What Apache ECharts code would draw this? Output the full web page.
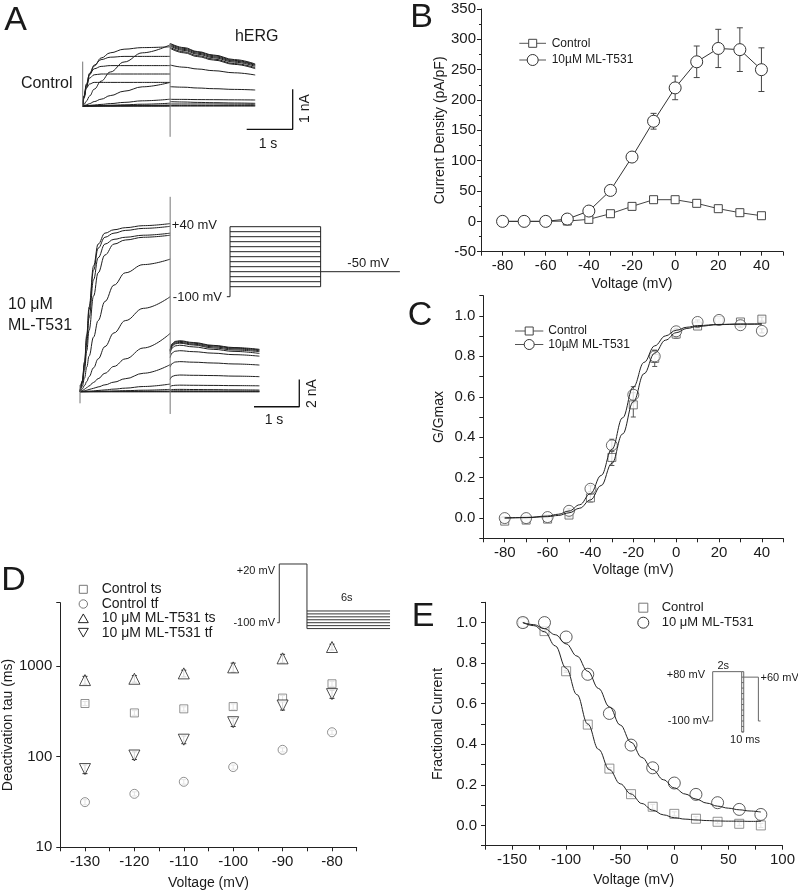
<!DOCTYPE html>
<html><head><meta charset="utf-8">
<script src="https://cdn.jsdelivr.net/npm/echarts@6/dist/echarts.min.js"></script>
<style>html,body{margin:0;padding:0;background:#fff}#c{width:798px;height:896px}</style>
</head><body><div id="c"></div>
<script>
// ---------- Panel A: current traces (time s, current nA) ----------
const ctrlStepT = [0, 0.03, 0.08, 0.15, 0.25, 0.4, 0.6, 0.9, 1.3, 1.9];
const ctrlStepI = [
  [0,0.25,0.45,0.55,0.59,0.59,0.59,0.59,0.59,0.59],
  [0,0.25,0.52,0.7,0.78,0.8,0.8,0.8,0.8,0.8],
  [0,0.25,0.55,0.8,0.93,0.99,1.01,1.01,1.01,1.01],
  [0,0.22,0.5,0.82,1.02,1.16,1.22,1.24,1.24,1.24],
  [0,0.2,0.45,0.78,1.0,1.2,1.33,1.42,1.46,1.48],
  [0,0.04,0.12,0.25,0.42,0.62,0.85,1.1,1.33,1.53],
  [0,0.01,0.03,0.06,0.11,0.17,0.26,0.37,0.48,0.59],
  [0,0.003,0.008,0.015,0.025,0.04,0.06,0.09,0.13,0.17],
  [0,0,0.002,0.005,0.008,0.013,0.02,0.03,0.045,0.07],
  [0,0,0,0,0.002,0.004,0.007,0.011,0.017,0.025],
  [0,0,0,0,0,0.002,0.003,0.005,0.007,0.01],
  [0,0,0,0,0,0,0,0,0,0],
  [0,0,0,0,0,0,0,0,0,0]
];
const ctrlTailT = [1.9, 2.2, 2.5, 2.84, 3.3, 3.75];
const ctrlTailI = [
  [1.567,1.46,1.36,1.275,1.16,1.05],
  [1.55,1.44,1.345,1.258,1.14,1.033],
  [1.525,1.415,1.32,1.233,1.12,1.017],
  [1.5,1.39,1.295,1.208,1.095,0.992],
  [1.467,1.355,1.26,1.175,1.06,0.958],
  [1.442,1.33,1.235,1.15,1.04,0.933],
  [1.025,0.97,0.925,0.883,0.83,0.775],
  [0.483,0.47,0.45,0.433,0.415,0.4],
  [0.167,0.165,0.16,0.158,0.154,0.15],
  [0.108,0.1,0.09,0.083,0.075,0.067],
  [0.05,0.05,0.05,0.05,0.046,0.042],
  [0.01,0.01,0.01,0.01,0.01,0.01],
  [0,0,0,0,0,0]
];
const ctrlArtifactT = [0, 1.9];
const ctrlArtifactLo = [0, -0.77];
const ctrlArtifactHi = [1.11, 1.57];
const ctrlScaleT = [3.565, 4.565];
const ctrlScaleI = [-0.5825, 0.4175];

const drugStepT = [0, 0.05, 0.1, 0.15, 0.2, 0.3, 0.4, 0.55, 0.75, 1.0, 1.4, 1.99];
const drugStepI = [
  [0,0.8,2.2,4.2,6.2,9.2,10.8,11.6,11.85,12.0,12.15,12.3],
  [0,0.75,2.1,4.0,6.0,8.9,10.5,11.3,11.6,11.8,11.95,12.1],
  [0,0.7,1.9,3.6,5.4,8.2,9.8,10.8,11.15,11.3,11.45,11.6],
  [0,0.6,1.6,3.0,4.5,7.0,8.7,10.0,10.8,11.1,11.3,11.45],
  [0,0.4,1.0,1.8,2.6,4.0,5.2,6.6,7.8,8.7,9.3,9.7],
  [0,0.2,0.45,0.75,1.1,1.75,2.4,3.3,4.3,5.2,6.1,6.95],
  [0,0.08,0.18,0.3,0.42,0.68,0.95,1.35,1.85,2.4,3.2,4.27],
  [0,0.03,0.07,0.11,0.16,0.25,0.35,0.5,0.7,0.95,1.35,1.98],
  [0,0.01,0.02,0.03,0.04,0.06,0.09,0.13,0.19,0.26,0.38,0.56],
  [0,0,0.005,0.01,0.012,0.02,0.028,0.04,0.055,0.075,0.11,0.17],
  [0,0,0,0,0.005,0.007,0.01,0.013,0.018,0.025,0.035,0.05],
  [0,0,0,0,0,0,0,0,0,0,0,0],
  [0,0,0,0,0,0,0,0,0,0,0,0]
];
const drugTailT = [1.99, 2.03, 2.1, 2.2, 2.5, 2.94, 3.4, 3.96];
const drugTailI = [
  [3.06,3.5,3.68,3.73,3.6,3.39,3.23,3.1],
  [3.02,3.45,3.63,3.68,3.55,3.35,3.19,3.06],
  [2.98,3.39,3.56,3.61,3.48,3.28,3.13,3.0],
  [2.92,3.33,3.5,3.55,3.42,3.2,3.05,2.93],
  [2.8,3.19,3.35,3.4,3.28,3.1,2.95,2.8],
  [2.5,2.83,2.96,3.0,2.93,2.82,2.71,2.6],
  [1.8,2.06,2.17,2.2,2.16,2.1,2.03,1.95],
  [0.9,1.11,1.19,1.22,1.2,1.18,1.14,1.1],
  [0.35,0.44,0.47,0.48,0.47,0.46,0.445,0.43],
  [0.12,0.15,0.165,0.17,0.16,0.15,0.135,0.12],
  [0.05,0.055,0.06,0.06,0.055,0.05,0.05,0.05],
  [0,0,0,0,0,0,0,0],
  [0,0,0,0,0,0,0,0]
];
const drugArtifactT = [0, 1.99];
const drugArtifactLo = [-0.85, -1.63];
const drugArtifactHi = [0.49, 14.26];
const drugScaleT = [3.84, 4.84];
const drugScaleI = [-1.1, 0.9];

// protocol A (time s, mV)
const protoASteps = [-80,-70,-60,-50,-40,-30,-20,-10,0,10,20,30,40];
const protoAHold = -100;
const protoATail = -50;
const protoATimes = [-0.07, 0, 2, 3.75];

// ---------- Panel B ----------
const bVolt = [-80,-70,-60,-50,-40,-30,-20,-10,0,10,20,30,40];
const bControl = [0,0,0,0.5,3.3,12.6,24.7,35.7,35.7,29.7,20.9,14.3,9.3];
const bControlErr = [1,1,1,1,2,2,3,3,3,3,3,3,3];
const bDrug = [0,0,0,3.8,17,51,106,165,220,263,285,283,250];
const bDrugErr = [1,1,1,2,3,4,6,13,19.5,26,31.5,36,36];

// ---------- Panel C ----------
const cVolt = [-80,-70,-60,-50,-40,-30,-20,-10,0,10,20,30,40];
const cControl = [-0.015,-0.01,-0.005,0.015,0.10,0.30,0.56,0.79,0.91,0.95,0.977,0.97,0.984];
const cControlErr = [0.005,0.005,0.005,0.01,0.02,0.04,0.06,0.04,0.02,0.01,0.01,0.01,0.01];
const cDrug = [0.0,0.0,0.005,0.036,0.145,0.36,0.61,0.80,0.924,0.97,0.98,0.954,0.926];
const cDrugErr = [0.005,0.005,0.005,0.01,0.015,0.03,0.04,0.03,0.015,0.01,0.01,0.01,0.01];
const cFitVolt = [-80,-70,-60,-55,-50,-45,-40,-35,-30,-25,-20,-15,-10,-5,0,5,10,20,30,40];
const cControlFit = [0.0,0.002,0.007,0.013,0.026,0.049,0.09,0.161,0.271,0.416,0.575,0.714,0.816,0.88,0.917,0.938,0.948,0.957,0.959,0.96];
const cDrugFit = [0.001,0.003,0.01,0.019,0.035,0.066,0.121,0.211,0.34,0.496,0.648,0.77,0.852,0.901,0.929,0.944,0.952,0.958,0.96,0.96];

// ---------- Panel D ----------
const dVolt = [-130,-120,-110,-100,-90,-80];
const dCtrlTs = [386,304,337,357,443,637];
const dCtrlTsErr = [20,18,18,25,30,40];
const dCtrlTf = [31.5,38.9,52.8,76.8,119,186];
const dCtrlTfErr = [2,2,3,4,6,10];
const dDrugTs = [700,724,830,967,1216,1622];
const dDrugTsErr = [70,60,70,110,130,120];
const dDrugTf = [73,103,154,240,367,490];
const dDrugTfErr = [8,10,15,25,40,50];
// protocol D
const protoDHold = -100;
const protoDPulse = 20;
const protoDSteps = [-76,-82,-88,-94,-100,-106,-112];
const protoDTimes = [-0.15, 0, 2, 8];

// ---------- Panel E ----------
const eVolt = [-140,-120,-100,-80,-60,-40,-20,0,20,40,60,80];
const eControl = [1.0,0.958,0.76,0.497,0.28,0.154,0.092,0.057,0.033,0.018,0.008,0.0];
const eControlErr = [0.005,0.005,0.005,0.005,0.005,0.01,0.012,0.01,0.01,0.01,0.01,0.01];
const eDrug = [1.0,1.0,0.929,0.745,0.552,0.396,0.284,0.209,0.153,0.112,0.079,0.054];
const eFitVolt = [-140,-130,-120,-110,-100,-90,-80,-70,-60,-50,-40,-30,-20,-10,0,10,20,30,40,50,60,70,80];
const eControlFit = [1.0,0.985,0.955,0.885,0.775,0.645,0.5,0.375,0.275,0.205,0.155,0.108,0.075,0.052,0.038,0.031,0.027,0.024,0.022,0.021,0.021,0.02,0.02];
const eDrugFit = [1.0,0.99,0.97,0.94,0.895,0.835,0.76,0.675,0.585,0.495,0.41,0.335,0.275,0.225,0.185,0.155,0.13,0.11,0.095,0.085,0.077,0.071,0.066];
// protocol E
const protoEHold = -100;
const protoEPre = 80;
const protoETest = 60;
const protoELadder = [-140,-120,-100,-80,-60,-40,-20,0,20,40,60,80];
const protoETimes = [-0.3, 0, 2, 2.14, 3.15, 3.3];

// =================================================================
const FONT = '"Liberation Sans", Arial, sans-serif';
const TXT = '#1a1a1a';
const chart = echarts.init(document.getElementById('c'), null, {renderer: 'canvas'});

const grids = [
  {left:82.7, top:40, width:211.6, height:98},        // 0 A control
  {left:80, top:194.9, width:222, height:221.4},      // 1 A drug
  {left:225.5, top:221.7, width:174.4, height:80},    // 2 A protocol
  {left:481, top:9, width:302, height:242.7},         // 3 B
  {left:483.3, top:295.7, width:300, height:242.6},   // 4 C
  {left:57.3, top:602.7, width:299.4, height:244.6},  // 5 D
  {left:276.5, top:559.1, width:116.3, height:73.4},  // 6 D protocol
  {left:485, top:602.3, width:299.7, height:243.4},   // 7 E
  {left:708.35, top:668.9, width:55.1, height:65.8}   // 8 E protocol
];
const xAxes = [], yAxes = [];
function hidden(gi, xmin, xmax, ymin, ymax) {
  xAxes[gi] = {type:'value', gridIndex:gi, min:xmin, max:xmax, show:false};
  yAxes[gi] = {type:'value', gridIndex:gi, min:ymin, max:ymax, show:false};
}
hidden(0, 0, 4.6, -0.8, 1.65);
hidden(1, 0, 4.9, -1.8, 14.4);
hidden(2, -0.1, 3.75, -110, 50);
hidden(6, -0.2, 8.2, -120, 30);
hidden(8, -0.3, 3.5, -150, 90);

const axisLineS = {show:true, onZero:false, lineStyle:{color:'#222', width:1}};
function xAx(gi, min, max, interval, fmt, nameGap) {
  return {type:'value', gridIndex:gi, min, max, interval, name:'Voltage (mV)', nameLocation:'middle', nameGap,
    nameTextStyle:{fontSize:14, color:TXT, fontFamily:FONT},
    axisLine:axisLineS, axisTick:{show:true, length:4, lineStyle:{color:'#222'}},
    axisLabel:{fontSize:15, color:TXT, fontFamily:FONT, margin:7, formatter:fmt},
    splitLine:{show:false}};
}
function yAx(gi, min, max, interval, fmt, name, nameGap, margin, extra) {
  return Object.assign({type:'value', gridIndex:gi, min, max, interval, name, nameLocation:'middle', nameGap,
    nameTextStyle:{fontSize:14, color:TXT, fontFamily:FONT},
    axisLine:axisLineS, axisTick:{show:true, length:4, lineStyle:{color:'#222'}},
    axisLabel:{fontSize:15, color:TXT, fontFamily:FONT, margin, formatter:fmt},
    splitLine:{show:false}}, extra || {});
}
const every20 = v => (v % 20 === 0 ? String(v) : '');
const every10 = v => (v % 10 === 0 ? String(v) : '');
const every50 = v => (v % 50 === 0 ? String(v) : '');
const frac = v => { const r = Math.round(v * 10); return r % 2 === 0 ? (r / 10).toFixed(1) : ''; };

xAxes[3] = xAx(3, -90, 50, 10, every20, 25);
yAxes[3] = yAx(3, -50, 350, 50, v => String(v), 'Current Density (pA/pF)', 33, 5,
  {minorTick:{show:true, splitNumber:2, length:2, lineStyle:{color:'#222'}}});
xAxes[4] = xAx(4, -90, 50, 10, every20, 25);
yAxes[4] = yAx(4, -0.1, 1.1, 0.1, frac, 'G/Gmax', 37, 8);
xAxes[5] = xAx(5, -135, -75, 5, every10, 29);
yAxes[5] = {type:'log', logBase:10, gridIndex:5, min:10, max:5000, name:'Deactivation tau (ms)', nameLocation:'middle', nameGap:41,
  nameTextStyle:{fontSize:14, color:TXT, fontFamily:FONT},
  axisLine:axisLineS, axisTick:{show:true, length:4, lineStyle:{color:'#222'}},
  axisLabel:{fontSize:15, color:TXT, fontFamily:FONT, margin:8,
    formatter: v => ([10,100,1000].some(k => Math.abs(v - k) < 1e-6) ? String(Math.round(v)) : '')},
  splitLine:{show:false}};
xAxes[7] = xAx(7, -175, 100, 25, every50, 27);
yAxes[7] = yAx(7, -0.1, 1.1, 0.1, frac, 'Fractional Current', 40, 8);

const series = [];
const lineBase = {type:'line', showSymbol:false, symbol:'none', silent:true, animation:false, clip:false};
function pathSeries(gi, pts, color, width, smooth) {
  series.push(Object.assign({}, lineBase, {xAxisIndex:gi, yAxisIndex:gi, data:pts, smooth: smooth || false,
    smoothMonotone:'x', connectNulls:false, lineStyle:{color, width}}));
}
// A traces
ctrlStepI.forEach(arr => pathSeries(0, ctrlStepT.map((t,j)=>[t, arr[j]]), '#1e1e1e', 1, 0.4));
ctrlTailI.forEach(arr => pathSeries(0, ctrlTailT.map((t,j)=>[t, arr[j]]), '#1e1e1e', 1, 0.4));
ctrlArtifactT.forEach((t,i) => pathSeries(0, [[t, ctrlArtifactLo[i]],[t, ctrlArtifactHi[i]]], '#777', 1));
pathSeries(0, [[ctrlScaleT[0], ctrlScaleI[0]],[ctrlScaleT[1], ctrlScaleI[0]],[ctrlScaleT[1], ctrlScaleI[1]]], '#111', 1.3);
drugStepI.forEach(arr => pathSeries(1, drugStepT.map((t,j)=>[t, arr[j]]), '#1e1e1e', 1, 0.4));
drugTailI.forEach(arr => pathSeries(1, drugTailT.map((t,j)=>[t, arr[j]]), '#1e1e1e', 1, 0.4));
drugArtifactT.forEach((t,i) => pathSeries(1, [[t, drugArtifactLo[i]],[t, drugArtifactHi[i]]], '#777', 1));
pathSeries(1, [[drugScaleT[0], drugScaleI[0]],[drugScaleT[1], drugScaleI[0]],[drugScaleT[1], drugScaleI[1]]], '#111', 1.3);
// protocol A
(function(){
  const [t0, t1, t2, t3] = protoATimes;
  const pts = [];
  protoASteps.forEach(v => { pts.push([t1, v],[t2, v], null); });
  const vmax = Math.max(...protoASteps), vmin = Math.min(...protoASteps);
  pts.push([t0, protoAHold],[t1, protoAHold],[t1, vmax], null);
  pts.push([t2, vmax],[t2, vmin], null);
  pts.push([t2, protoATail],[t3, protoATail]);
  pathSeries(2, pts, '#222', 1);
})();
// protocol D
(function(){
  const [t0, t1, t2, t3] = protoDTimes;
  const pts = [[t0, protoDHold],[t1, protoDHold],[t1, protoDPulse],[t2, protoDPulse],[t2, Math.min(...protoDSteps)], null];
  protoDSteps.forEach(v => pts.push([t2, v],[t3, v], null));
  pathSeries(6, pts, '#333', 1);
})();
// protocol E
(function(){
  const [t0, t1, t2, t3, t4, t5] = protoETimes;
  const lo = Math.min(...protoELadder), hi = Math.max(...protoELadder);
  const pts = [[t0, protoEHold],[t1, protoEHold],[t1, protoEPre],[t2, protoEPre], null,
    [t2, lo],[t2, hi], null, [t3, lo],[t3, hi], null, [t2, lo],[t3, lo], null];
  protoELadder.forEach(v => pts.push([t2, v],[t3, v], null));
  pts.push([t3, protoETest],[t4, protoETest],[t4, protoEHold],[t5, protoEHold]);
  pathSeries(8, pts, '#666', 1);
})();

// error bars
function errSeries(gi, xs, ys, errs, color, cap) {
  series.push({type:'custom', xAxisIndex:gi, yAxisIndex:gi, silent:true, animation:false, z:1,
    data: xs.map((x,i)=>[x, ys[i]-errs[i], ys[i]+errs[i]]), encode:{x:0, y:[1,2]},
    renderItem:(params, api) => {
      const x = api.value(0);
      const p1 = api.coord([x, api.value(1)]), p2 = api.coord([x, api.value(2)]);
      const h = cap/2, st = {stroke:color, lineWidth:1};
      return {type:'group', children:[
        {type:'line', shape:{x1:p1[0], y1:p1[1], x2:p2[0], y2:p2[1]}, style:st},
        {type:'line', shape:{x1:p1[0]-h, y1:p1[1], x2:p1[0]+h, y2:p1[1]}, style:st},
        {type:'line', shape:{x1:p2[0]-h, y1:p2[1], x2:p2[0]+h, y2:p2[1]}, style:st}]};
    }});
}
function markSeries(gi, xs, ys, symbol, size, color, withLine, rotate) {
  series.push({type: withLine ? 'line' : 'scatter', xAxisIndex:gi, yAxisIndex:gi, silent:true, animation:false, z:2,
    data: xs.map((x,i)=>[x, ys[i]]), symbol, symbolSize:size, symbolRotate: rotate || 0, showSymbol:true,
    itemStyle:{color:'#fff', borderColor:color, borderWidth:1},
    lineStyle: withLine ? {color:color, width:1} : undefined});
}
// B
errSeries(3, bVolt, bDrug, bDrugErr, '#444', 6);
errSeries(3, bVolt, bControl, bControlErr, '#555', 5);
markSeries(3, bVolt, bControl, 'rect', 8, '#444', true);
markSeries(3, bVolt, bDrug, 'circle', 12, '#333', true);
// C
pathSeries(4, cFitVolt.map((v,i)=>[v, cControlFit[i]]), '#222', 1, 0.4);
pathSeries(4, cFitVolt.map((v,i)=>[v, cDrugFit[i]]), '#222', 1, 0.4);
errSeries(4, cVolt, cControl, cControlErr, '#555', 5);
errSeries(4, cVolt, cDrug, cDrugErr, '#555', 5);
markSeries(4, cVolt, cControl, 'rect', 8, '#555', false);
markSeries(4, cVolt, cDrug, 'circle', 11, '#444', false);
// D
errSeries(5, dVolt, dCtrlTs, dCtrlTsErr, '#777', 5);
errSeries(5, dVolt, dCtrlTf, dCtrlTfErr, '#777', 5);
errSeries(5, dVolt, dDrugTs, dDrugTsErr, '#333', 5);
errSeries(5, dVolt, dDrugTf, dDrugTfErr, '#333', 5);
markSeries(5, dVolt, dCtrlTs, 'rect', 8, '#777', false);
markSeries(5, dVolt, dCtrlTf, 'circle', 9, '#777', false);
markSeries(5, dVolt, dDrugTs, 'triangle', 11, '#222', false);
markSeries(5, dVolt, dDrugTf, 'triangle', 11, '#222', false, 180);
// E
pathSeries(7, eFitVolt.map((v,i)=>[v, eControlFit[i]]), '#222', 1, 0.4);
pathSeries(7, eFitVolt.map((v,i)=>[v, eDrugFit[i]]), '#222', 1, 0.4);
errSeries(7, eVolt, eControl, eControlErr, '#777', 5);
markSeries(7, eVolt, eControl, 'rect', 9, '#777', false);
markSeries(7, eVolt, eDrug, 'circle', 12, '#333', false);

// ---------- text & legends ----------
function T(text, x, y, size, align, vAlign, rot, color) {
  return {type:'text', x, y, rotation: rot || 0, silent:true,
    style:{text, fontSize:size, fontFamily:FONT, fill: color || TXT, align: align || 'center', verticalAlign: vAlign || 'middle'}};
}
function L(x1,y1,x2,y2,c){ return {type:'line', silent:true, shape:{x1,y1,x2,y2}, style:{stroke:c||'#444', lineWidth:1}}; }
function Sq(cx,cy,s,c){ return {type:'rect', silent:true, shape:{x:cx-s/2,y:cy-s/2,width:s,height:s}, style:{fill:'#fff', stroke:c, lineWidth:1}}; }
function Ci(cx,cy,r,c){ return {type:'circle', silent:true, shape:{cx,cy,r}, style:{fill:'#fff', stroke:c, lineWidth:1}}; }
function Tri(cx,cy,s,c,down){ const h=s*0.87/2, w=s/2;
  const pts = down ? [[cx-w,cy-h],[cx+w,cy-h],[cx,cy+h]] : [[cx-w,cy+h],[cx+w,cy+h],[cx,cy-h]];
  return {type:'polygon', silent:true, shape:{points:pts}, style:{fill:'#fff', stroke:c, lineWidth:1}}; }

const graphics = [
  // panel letters
  T('A', 15.5, 21, 34), T('B', 421.5, 18, 34), T('C', 420, 316, 34), T('D', 13.5, 581, 34), T('E', 423, 617, 34),
  // panel A texts
  T('hERG', 256.7, 36.7, 16), T('Control', 46.7, 84, 16),
  T('10 μM', 8, 305, 16, 'left'), T('ML-T531', 8, 326, 16, 'left'),
  T('1 s', 268, 144, 14), T('1 nA', 305.5, 108.5, 14, 'center', 'middle', Math.PI/2),
  T('1 s', 274, 420, 14), T('2 nA', 312, 393.5, 14, 'center', 'middle', Math.PI/2),
  T('+40 mV', 217, 225, 13, 'right'), T('-100 mV', 222, 297.5, 13, 'right'), T('-50 mV', 368.3, 263.5, 13),
  // D protocol texts
  T('+20 mV', 275, 571, 11, 'right'), T('-100 mV', 275, 622.5, 11, 'right'), T('6s', 346.7, 598.3, 11),
  // E protocol texts
  T('+80 mV', 705, 675, 11, 'right'), T('-100 mV', 709.3, 721.3, 11, 'right'), T('2s', 723.3, 665.7, 11),
  T('10 ms', 745, 739.5, 11), T('+60 mV', 760.5, 678.3, 11, 'left'),
  // B legend
  L(519.3, 43.3, 546, 43.3, '#555'), Sq(532.7, 43.3, 8, '#444'), T('Control', 551.7, 43.3, 12, 'left'),
  L(519.3, 60, 546, 60, '#555'), Ci(532.7, 60, 5.5, '#333'), T('10µM ML-T531', 551.7, 60, 12, 'left'),
  // C legend
  L(515, 331, 543.3, 331, '#555'), Sq(529.2, 331, 8, '#444'), T('Control', 548.3, 331, 12, 'left'),
  L(515, 344.5, 543.3, 344.5, '#555'), Ci(529.2, 344.5, 5, '#333'), T('10µM ML-T531', 548.3, 344.5, 12, 'left'),
  // D legend
  Sq(83.3, 589.3, 8, '#777'), T('Control ts', 101.7, 589.3, 14, 'left'),
  Ci(83.3, 604, 4.2, '#777'), T('Control tf', 101.7, 604, 14, 'left'),
  Tri(83.3, 618.3, 10, '#222', false), T('10 μM ML-T531 ts', 101.7, 618.3, 14, 'left'),
  Tri(83.3, 632.7, 10, '#222', true), T('10 μM ML-T531 tf', 101.7, 632.7, 14, 'left'),
  // E legend
  Sq(643.3, 607.7, 9, '#777'), T('Control', 661.7, 607.7, 13, 'left'),
  Ci(643.3, 622.7, 5.5, '#333'), T('10 μM ML-T531', 661.7, 622.7, 13, 'left')
];

chart.setOption({
  animation:false,
  backgroundColor:'#fff',
  textStyle:{fontFamily:FONT},
  grid: grids.map(g => Object.assign({containLabel:false}, g)),
  xAxis: xAxes,
  yAxis: yAxes,
  series,
  graphic: graphics
});
</script></body></html>
